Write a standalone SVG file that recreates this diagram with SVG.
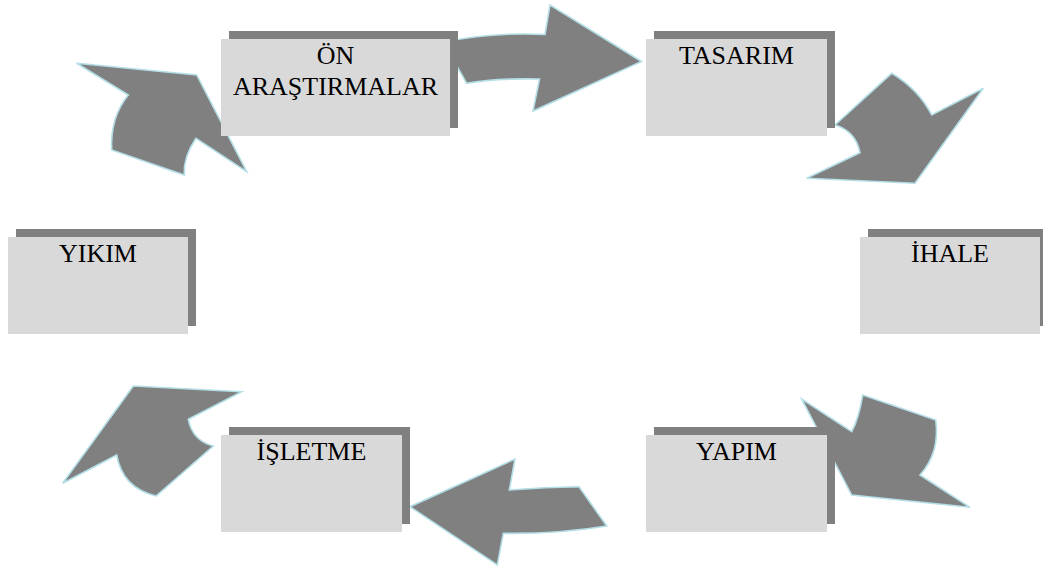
<svg xmlns="http://www.w3.org/2000/svg" width="1043" height="568" viewBox="0 0 1043 568">
<style>
.arr{fill:#808080;stroke:#b4dfe6;stroke-width:1.6;stroke-linejoin:miter}
.sh{fill:#808080}
.bx{fill:#d9d9d9}
.t{font-family:"Liberation Serif","Times New Roman",serif;font-size:26px;fill:#000;text-anchor:middle}
</style>
<rect width="1043" height="568" fill="#fff"/>
<g id="connectors">
<path class="arr" d="M445,42 Q490,32 545,34.5 L550,5 L641.5,61.5 L533,111 L539.5,79 Q495,78 466.7,83.3 L445,45 Z"/>
<path class="arr" d="M835,125 L891.7,73.3 Q918.3,89.2 931.7,115 L983.3,88.3 L915,183.3 L806.7,178.3 L860,152.7 Q855.8,131.2 835,125 Z"/>
<path class="arr" d="M862.7,395 L935.7,420 Q940.2,452.5 920,475 L970,507.3 L851.7,495 L801.7,399 L851.7,431.7 Q859,418 862.7,395 Z"/>
<path class="arr" d="M579,486.7 Q545,487 509.3,490 L515,459 L410,506.7 L497.3,565 L503.3,533.3 Q558.3,534 606.7,526 Z"/>
<path class="arr" d="M241.7,391.7 L133.3,386 L62.7,483.3 L116.7,455 Q122.3,487.8 156,496 L213.3,446 Q192.5,440.7 188.3,419.3 Z"/>
<path class="arr" d="M76.7,63.3 L196.7,75 L246.7,171.7 L196,138.3 Q183.2,156.7 184.3,175 L111.7,150 Q110,117.5 128.3,95 Z"/>
</g>
<g id="on-arastirmalar">
<rect class="sh" x="229" y="31" width="229" height="97"/>
<rect class="bx" x="221" y="39" width="229" height="97"/>
<text class="t" x="335.5" y="64">ÖN</text>
<text class="t" x="335.5" y="95">ARAŞTIRMALAR</text>
</g>
<g id="tasarim">
<rect class="sh" x="654" y="31" width="181" height="97"/>
<rect class="bx" x="646" y="39" width="181" height="97"/>
<text class="t" x="736.5" y="64">TASARIM</text>
</g>
<g id="ihale">
<rect class="sh" x="868" y="229" width="180" height="97"/>
<rect class="bx" x="860" y="237" width="180" height="97"/>
<text class="t" x="950" y="262">İHALE</text>
</g>
<g id="yapim">
<rect class="sh" x="654" y="427" width="181" height="97"/>
<rect class="bx" x="646" y="435" width="181" height="97"/>
<text class="t" x="736.5" y="460">YAPIM</text>
</g>
<g id="isletme">
<rect class="sh" x="229" y="427" width="181" height="97"/>
<rect class="bx" x="221" y="435" width="181" height="97"/>
<text class="t" x="311.5" y="460">İŞLETME</text>
</g>
<g id="yikim">
<rect class="sh" x="16" y="229" width="180" height="97"/>
<rect class="bx" x="8" y="237" width="180" height="97"/>
<text class="t" x="98" y="262">YIKIM</text>
</g>
</svg>
